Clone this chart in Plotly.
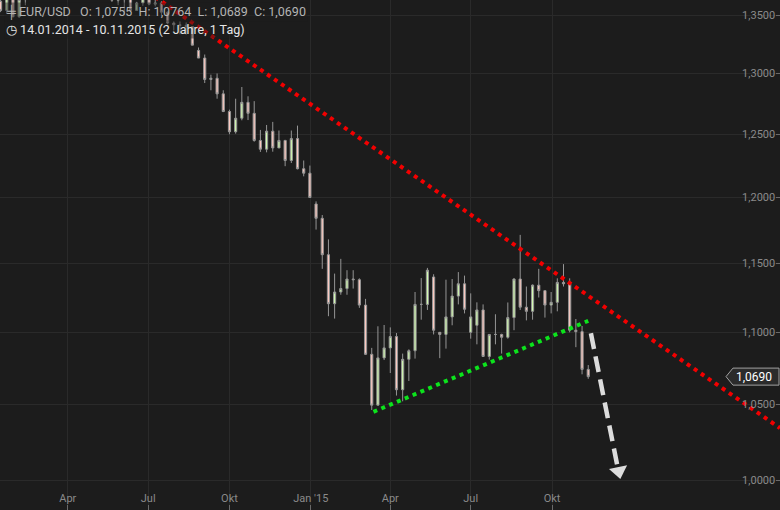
import math
import pandas as pd
import plotly.graph_objects as go

# weekly candles (centred on Wednesday), EUR/USD 14.01.2014 - 10.11.2015
week_centers = pd.date_range("2014-01-15", periods=96, freq="7D")

opens = [
    1.3620, 1.3540, 1.3680, 1.3485, 1.3635, 1.3690, 1.3740, 1.3800, 1.3910, 1.3910,
    1.3790, 1.3750, 1.3705, 1.3885, 1.3810, 1.3830, 1.3870, 1.3755, 1.3695, 1.3630,
    1.3635, 1.3640, 1.3540, 1.3605, 1.3645, 1.3595, 1.3605, 1.3525, 1.3430, 1.3415,
    1.3410, 1.3400, 1.3195, 1.3130, 1.2950, 1.2960, 1.2830, 1.2685, 1.2520, 1.2630,
    1.2760, 1.2670, 1.2450, 1.2380, 1.2525, 1.2390, 1.2450, 1.2290, 1.2465, 1.2225,
    1.2190,
    1.1950, 1.1840, 1.1565, 1.1205, 1.1290, 1.1315, 1.1385, 1.1380, 1.1195, 1.0845,
    1.0495, 1.0820, 1.0890, 1.0970, 1.0600, 1.0810, 1.0870, 1.1200, 1.1200, 1.1400,
    1.1000, 1.0985, 1.1110, 1.1260, 1.1350, 1.1000, 1.1050, 1.1160, 1.0830, 1.0985,
    1.0985, 1.0965, 1.1105, 1.1385, 1.1180, 1.1150, 1.1340, 1.1300, 1.1195, 1.1215,
    1.1360, 1.1350, 1.1015, 1.1005, 1.0740,
]
highs = [
    1.3700, 1.3740, 1.3740, 1.3640, 1.3710, 1.3775, 1.3825, 1.3915, 1.3967, 1.3950,
    1.3875, 1.3810, 1.3905, 1.3905, 1.3860, 1.3890, 1.3993, 1.3770, 1.3735, 1.3650,
    1.3670, 1.3640, 1.3615, 1.3650, 1.3700, 1.3640, 1.3620, 1.3530, 1.3445, 1.3445,
    1.3435, 1.3400, 1.3220, 1.3160, 1.2990, 1.3000, 1.2860, 1.2700, 1.2790, 1.2887,
    1.2810, 1.2770, 1.2535, 1.2575, 1.2600, 1.2530, 1.2455, 1.2530, 1.2570, 1.2290,
    1.2250,
    1.1970, 1.1865, 1.1680, 1.1425, 1.1534, 1.1450, 1.1450, 1.1390, 1.1240, 1.0890,
    1.1043, 1.1052, 1.1035, 1.0995, 1.0850, 1.0880, 1.1290, 1.1392, 1.1467, 1.1420,
    1.1000, 1.1380, 1.1385, 1.1436, 1.1410, 1.1280, 1.1215, 1.1200, 1.0985, 1.1129,
    1.0990, 1.1214, 1.1390, 1.1714, 1.1330, 1.1345, 1.1460, 1.1300, 1.1290, 1.1390,
    1.1495, 1.1390, 1.1095, 1.1045, 1.0770,
]
lows = [
    1.3525, 1.3510, 1.3480, 1.3475, 1.3585, 1.3685, 1.3645, 1.3730, 1.3845, 1.3750,
    1.3705, 1.3672, 1.3695, 1.3790, 1.3785, 1.3790, 1.3750, 1.3646, 1.3615, 1.3586,
    1.3503, 1.3525, 1.3545, 1.3580, 1.3585, 1.3575, 1.3500, 1.3420, 1.3365, 1.3333,
    1.3330, 1.3240, 1.3130, 1.2920, 1.2860, 1.2790, 1.2680, 1.2500, 1.2505, 1.2613,
    1.2615, 1.2440, 1.2358, 1.2355, 1.2360, 1.2390, 1.2245, 1.2270, 1.2220, 1.2165,
    1.2000,
    1.1754, 1.1460, 1.1115, 1.1098, 1.1270, 1.1270, 1.1315, 1.1175, 1.0840, 1.0462,
    1.0500, 1.0805, 1.0715, 1.0560, 1.0521, 1.0660, 1.0815, 1.1090, 1.1160, 1.0985,
    1.0818, 1.0885, 1.1050, 1.1200, 1.1135, 1.0955, 1.0915, 1.0830, 1.0808, 1.0915,
    1.0850, 1.0955, 1.1015, 1.1160, 1.1085, 1.1090, 1.1250, 1.1105, 1.1135, 1.1150,
    1.1330, 1.1000, 1.0895, 1.0706, 1.0675,
]
closes = [
    1.3540, 1.3680, 1.3485, 1.3635, 1.3690, 1.3740, 1.3800, 1.3910, 1.3910, 1.3790,
    1.3750, 1.3705, 1.3885, 1.3810, 1.3830, 1.3870, 1.3755, 1.3695, 1.3630, 1.3635,
    1.3640, 1.3540, 1.3605, 1.3645, 1.3595, 1.3605, 1.3525, 1.3430, 1.3415, 1.3410,
    1.3400, 1.3240, 1.3130, 1.2950, 1.2960, 1.2830, 1.2685, 1.2520, 1.2630, 1.2760,
    1.2670, 1.2450, 1.2380, 1.2525, 1.2390, 1.2450, 1.2290, 1.2465, 1.2225, 1.2190,
    1.2000,
    1.1840, 1.1565, 1.1205, 1.1290, 1.1315, 1.1385, 1.1380, 1.1195, 1.0845, 1.0495,
    1.0820, 1.0890, 1.0970, 1.0600, 1.0810, 1.0870, 1.1200, 1.1200, 1.1450, 1.1015,
    1.0985, 1.1110, 1.1260, 1.1350, 1.1165, 1.1110, 1.1160, 1.0830, 1.0985, 1.0985,
    1.0965, 1.1105, 1.1385, 1.1180, 1.1150, 1.1340, 1.1300, 1.1195, 1.1215, 1.1360,
    1.1350, 1.1015, 1.1005, 1.0740, 1.0690,
]

# drawn trend lines (date, price)
red_x = ["2014-07-01", "2016-06-15"]
red_y = [1.3700, 1.0341]
green_x = ["2015-03-13", "2015-11-11"]
green_y = [1.0450, 1.1082]
arrow_x = ["2015-11-14", "2015-12-14"]
arrow_y = [1.0993, 1.0091]
arrow_head_x = ["2015-12-15 14:00"]
arrow_head_y = [1.0058]

y_ticks = [1.00, 1.05, 1.10, 1.15, 1.20, 1.25, 1.30, 1.35]
x_ticks = ["2014-04-01", "2014-07-01", "2014-10-01", "2015-01-01",
           "2015-04-01", "2015-07-01", "2015-10-01"]
x_ticktext = ["Apr", "Jul", "Okt", "Jan '15", "Apr", "Jul", "Okt"]

y_range = [-0.008408, 0.134538]
bg = "#1c1c1c"
grid = "#2a2a2a"

fig = go.Figure()

fig.add_trace(go.Candlestick(
    x=week_centers, open=opens, high=highs, low=lows, close=closes,
    increasing=dict(line=dict(color="#959595", width=1), fillcolor="#d2fbb0"),
    decreasing=dict(line=dict(color="#959595", width=1), fillcolor="#fcc9c0"),
    whiskerwidth=0,
    hoverinfo="skip",
    showlegend=False,
))

fig.add_trace(go.Scatter(
    x=red_x, y=red_y, mode="lines",
    line=dict(color="#f20000", width=4, dash="4px,4.5px"),
    hoverinfo="skip", showlegend=False,
))
fig.add_trace(go.Scatter(
    x=green_x, y=green_y, mode="lines",
    line=dict(color="#0ce31c", width=4, dash="4px,4.5px"),
    hoverinfo="skip", showlegend=False,
))
fig.add_trace(go.Scatter(
    x=arrow_x, y=arrow_y, mode="lines",
    line=dict(color="#dcdcdc", width=4.5, dash="16px,7.5px"),
    hoverinfo="skip", showlegend=False,
))
fig.add_trace(go.Scatter(
    x=arrow_head_x, y=arrow_head_y, mode="markers",
    marker=dict(symbol="triangle-down", size=16, angle=-11, color="#dcdcdc",
                line=dict(width=0)),
    hoverinfo="skip", showlegend=False,
))

# last price marker on the right axis
last = closes[-1]
ly = (math.log10(last) - y_range[0]) / (y_range[1] - y_range[0])
h = 0.0167
fig.add_shape(
    type="path", xref="paper", yref="paper",
    path=f"M 0.9308,{ly} L 0.9397,{ly + h} L 0.9987,{ly + h} L 0.9987,{ly - h} L 0.9397,{ly - h} Z",
    fillcolor="#2b2b2b", line=dict(color="#a0a0a0", width=1),
)
fig.add_annotation(
    xref="paper", yref="paper", x=0.9987, y=ly, xanchor="right", yanchor="middle",
    text=f"{last:.4f}".replace(".", ","), showarrow=False,
    font=dict(family="Roboto", size=12, color="#ffffff"),
    xshift=-5,
)

# header
fig.add_annotation(
    xref="paper", yref="paper", x=0.0, y=1 - 12 / 510, xanchor="left", yanchor="middle",
    text="╪ EUR/USD   O: 1,0755  H: 1,0764  L: 1,0689  C: 1,0690",
    showarrow=False, bgcolor="rgba(28,28,28,0.45)", borderpad=1, xshift=4,
    font=dict(family="Roboto", size=12.5, color="#b4b4b4"),
)
fig.add_annotation(
    xref="paper", yref="paper", x=0.0, y=1 - 29 / 510, xanchor="left", yanchor="middle",
    text="◷ 14.01.2014 - 10.11.2015 (2 Jahre, 1 Tag)",
    showarrow=False, bgcolor="rgba(28,28,28,0.45)", borderpad=1, xshift=4,
    font=dict(family="Roboto", size=12.5, color="#e6e6e6"),
)

fig.update_layout(
    width=780, height=510,
    margin=dict(l=0, r=0, t=0, b=0),
    paper_bgcolor=bg, plot_bgcolor=bg,
    separators=",.",
    showlegend=False,
    boxgap=0.5,
    font=dict(family="Roboto", size=11, color="#8a8a8a"),
    xaxis=dict(
        type="date", range=["2014-01-14 08:00", "2016-06-15"],
        rangeslider=dict(visible=False),
        tickvals=x_ticks, ticktext=x_ticktext,
        ticklabelposition="inside", ticks="inside", ticklen=5, tickcolor="#6a6a6a",
        showgrid=True, gridcolor=grid, gridwidth=1,
        zeroline=False, showline=False,
        tickfont=dict(family="Roboto", size=11, color="#8a8a8a"),
    ),
    yaxis=dict(
        type="log", side="right", range=y_range,
        tickvals=y_ticks, tickformat=".4f",
        ticklabelposition="inside", ticks="inside", ticklen=4, tickcolor="#6a6a6a",
        showgrid=True, gridcolor=grid, gridwidth=1,
        zeroline=False, showline=False,
        tickfont=dict(family="Roboto", size=11, color="#8a8a8a"),
    ),
)

fig.write_html("out.html", config={"displayModeBar": False},
               post_script="document.body.style.margin='0';")
